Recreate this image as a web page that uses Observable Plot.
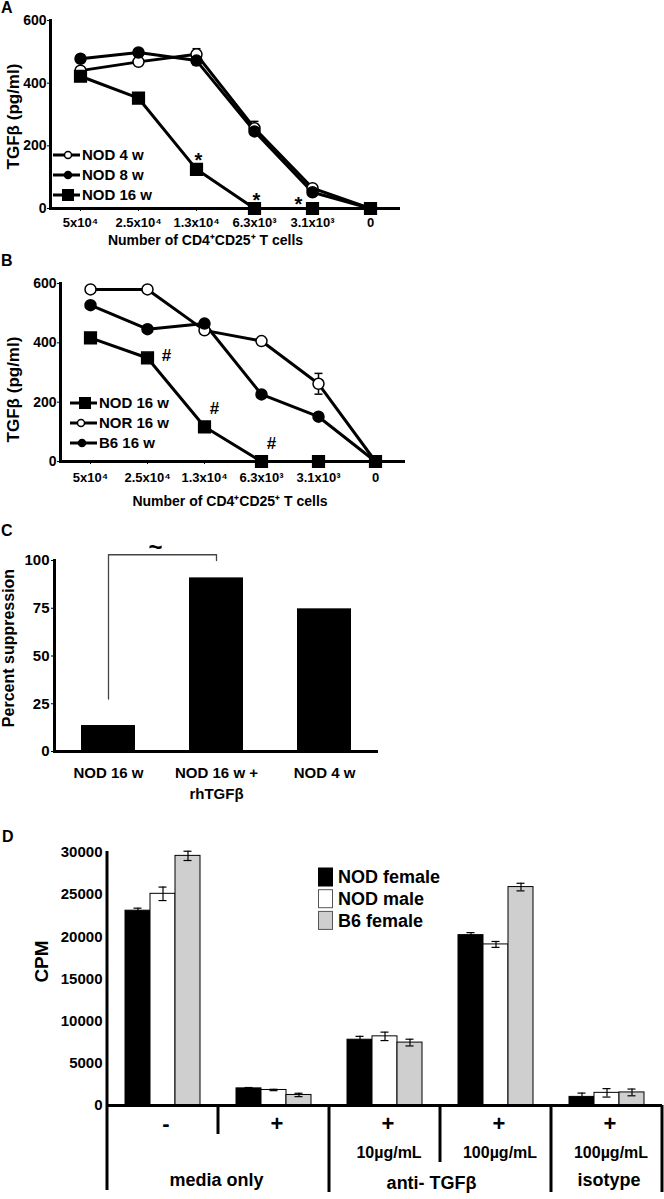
<!DOCTYPE html>
<html>
<head>
<meta charset="utf-8">
<script src="https://cdn.jsdelivr.net/npm/d3@7"></script>
<script src="https://cdn.jsdelivr.net/npm/@observablehq/plot@0.6"></script>
<style>
html,body{margin:0;padding:0;background:#fff;}
#fig{position:relative;width:664px;height:1199px;overflow:hidden;background:#fff;font-family:"Liberation Sans",Arial,Helvetica,sans-serif;font-weight:bold;color:#000;}
#fig > div, #fig > svg{position:absolute;}
.letter{font-size:16px;line-height:16px;}
</style>
</head>
<body>
<div id="fig"></div>
<script>
// ---------------- data ----------------
const cellNumbers = ["5x10⁴", "2.5x10⁴", "1.3x10⁴", "6.3x10³", "3.1x10³", "0"];

// Panel A
const seriesA = ["NOD 4 w", "NOD 8 w", "NOD 16 w"];
const nod4wA = [440, 468, 492, 256, 65, 0];
const nod4wAErr = [8, 10, 18, 22, 10, 0];
const nod8wA = [478, 498, 472, 246, 52, 0];
const nod8wAErr = [0, 0, 15, 0, 0, 0];
const nod16wA = [422, 352, 125, 0, 0, 0];
const nod16wAErr = [0, 0, 0, 0, 0, 0];
const starCellsA = ["1.3x10⁴", "6.3x10³", "3.1x10³"];
const starValuesA = [171, 44, 19];

// Panel B
const seriesB = ["NOD 16 w", "NOR 16 w", "B6 16 w"];
const nod16wB = [417, 349, 117, 0, 0, 0];
const nod16wBErr = [0, 0, 0, 0, 0, 0];
const nor16wB = [580, 580, 442, 406, 262, 0];
const nor16wBErr = [0, 0, 0, 0, 35, 0];
const b616wB = [527, 446, 465, 226, 151, 0];
const b616wBErr = [0, 0, 0, 0, 0, 0];
const hashCellsB = ["2.5x10⁴", "1.3x10⁴", "6.3x10³"];
const hashValuesB = [357, 178, 60];

// Panel C
const groupsC = ["NOD 16 w", "NOD 16 w +\nrhTGFβ", "NOD 4 w"];
const suppressionC = [13.6, 90.9, 74.7];
const bracketGroupsC = ["NOD 16 w", "NOD 16 w", "NOD 16 w +\nrhTGFβ", "NOD 16 w +\nrhTGFβ"];
const bracketValuesC = [27.5, 103, 103, 100];
const tildeValueC = [107];

// Panel D
const conditionsD = ["media −", "media +", "anti-TGFβ 10", "anti-TGFβ 100", "isotype 100"];
const signsD = ["-", "+", "+", "+", "+"];
const dosesD = ["", "", "10µg/mL", "100µg/mL", "100µg/mL"];
const categoriesD = ["media only", "anti- TGFβ", "isotype"];
const categoryConditionD = ["media −", "anti-TGFβ 10", "isotype 100"];
const strainsD = ["NOD female", "NOD male", "B6 female"];
const nodFemaleD = [23100, 2030, 7800, 20200, 1020];
const nodFemaleErrD = [300, 100, 400, 300, 450];
const nodMaleD = [25100, 1840, 8200, 19100, 1500];
const nodMaleErrD = [800, 80, 500, 350, 500];
const b6FemaleD = [29600, 1250, 7460, 25900, 1550];
const b6FemaleErrD = [550, 200, 400, 450, 400];
const cpmTicks = [0, 5000, 10000, 15000, 20000, 25000, 30000];

// ---------------- helpers ----------------
const FONT = '"Liberation Sans", Arial, Helvetica, sans-serif';
const fig = document.getElementById("fig");
function place(el, left, top) {
  el.style.position = "absolute";
  el.style.left = left + "px";
  el.style.top = top + "px";
  fig.appendChild(el);
  return el;
}
function style(size) {
  return {fontFamily: FONT, fontWeight: "bold", fontSize: size + "px", color: "#000", background: "transparent", overflow: "visible"};
}
function lineRows(series, values, errs) {
  return cellNumbers.map((cell, i) => ({series, cell, value: values[i], err: errs[i]}));
}
// horizontal cap symbol for error bars
const capSymbol = {draw(ctx, size) { const w = Math.sqrt(size); ctx.moveTo(-w / 2, 0); ctx.lineTo(w / 2, 0); }};

function linePanel(cfg) {
  const all = [...cfg.open, ...cfg.filled, ...cfg.square];
  const errs = all.filter(d => d.err > 0);
  return Plot.plot({
    width: cfg.width, height: cfg.height,
    marginLeft: cfg.ml, marginRight: cfg.mr, marginTop: cfg.mt, marginBottom: cfg.mb,
    style: style(13),
    x: {type: "point", domain: cellNumbers, padding: 0.5},
    y: {domain: [0, 600]},
    marks: [
      Plot.axisY({ticks: [0, 200, 400, 600], tickSize: 3, tickPadding: 1, label: null, fontSize: 14}),
      Plot.axisX({tickSize: 3, tickPadding: cfg.xtp, label: null, fontSize: 13}),
      Plot.frame({anchor: "left", strokeWidth: 3}),
      Plot.ruleY([0], {strokeWidth: 3}),
      Plot.text([cfg.ylabel], {text: d => d, frameAnchor: "left", textAnchor: "middle", rotate: -90, dx: cfg.ylDx, dy: cfg.ylDy, fontSize: 17}),
      Plot.text([cfg.xlabel], {text: d => d, frameAnchor: "bottom", dx: cfg.xlDx, dy: cfg.xlDy, fontSize: 14}),
      Plot.ruleX(errs, {x: "cell", y1: d => d.value - d.err, y2: d => d.value + d.err, strokeWidth: 1.5}),
      Plot.dot(errs, {x: "cell", y: d => d.value + d.err, symbol: capSymbol, r: 4.5, stroke: "#000", strokeWidth: 1.5}),
      Plot.dot(errs, {x: "cell", y: d => d.value - d.err, symbol: capSymbol, r: 4.5, stroke: "#000", strokeWidth: 1.5}),
      Plot.line(all, {x: "cell", y: "value", z: "series", stroke: "#000", strokeWidth: 3}),
      Plot.dot(cfg.open, {x: "cell", y: "value", r: 5.5, fill: "#fff", stroke: "#000", strokeWidth: 1.5}),
      Plot.dot(cfg.filled, {x: "cell", y: "value", r: 5.5, fill: "#000", stroke: "#000"}),
      Plot.dot(cfg.square, {x: "cell", y: "value", r: 6.6, symbol: "square", fill: "#000", stroke: "#000"}),
      Plot.text(cfg.ann, {x: "cell", y: "value", text: () => cfg.annText, fontSize: cfg.annSize, dx: cfg.annDx, dy: cfg.annDy}),
      ...(cfg.extra || [])
    ]
  });
}

function lineLegend(left, top, items, rowH) {
  const svg = d3.create("svg").attr("width", 130).attr("height", 70)
    .style("font-family", FONT).style("font-weight", "bold").style("font-size", "15px").style("overflow", "visible");
  items.forEach((it, i) => {
    const cy = 12 + i * rowH;
    svg.append("line").attr("x1", 2).attr("x2", 29).attr("y1", cy).attr("y2", cy).attr("stroke", "#000").attr("stroke-width", 3);
    if (it.kind === "square") {
      svg.append("rect").attr("x", it.mx - 6).attr("y", cy - 6).attr("width", 12).attr("height", 12).attr("fill", "#000");
    } else {
      svg.append("circle").attr("cx", it.mx).attr("cy", cy).attr("r", 3.5)
        .attr("fill", it.kind === "open" ? "#fff" : "#000").attr("stroke", "#000").attr("stroke-width", 1.5);
    }
    svg.append("text").attr("x", 31).attr("y", cy).attr("dy", "0.36em").text(it.label);
  });
  return place(svg.node(), left, top);
}

// ---------------- Panel A ----------------
const A4 = lineRows(seriesA[0], nod4wA, nod4wAErr);
const A8 = lineRows(seriesA[1], nod8wA, nod8wAErr);
const A16 = lineRows(seriesA[2], nod16wA, nod16wAErr);
const starsA = starCellsA.map((cell, i) => ({cell, value: starValuesA[i]}));
const chartA = linePanel({
  width: 420, height: 262, ml: 50, mr: 20, mt: 20, mb: 54, xtp: 6,
  open: A4, filled: A8, square: A16,
  ylabel: "TGFβ (pg/ml)", ylDx: -37, ylDy: 2,
  xlabel: "Number of CD4⁺CD25⁺ T cells", xlDx: -20, xlDy: 36,
  ann: starsA.slice(0, 2), annText: "*", annSize: 20, annDx: 2, annDy: 6,
  extra: [Plot.text(starsA.slice(2), {x: "cell", y: "value", text: () => "*", fontSize: 20, dx: -14, dy: 2})]
});
place(chartA, 0, 0);
lineLegend(51, 143, [
  {label: seriesA[0], kind: "open", mx: 17},
  {label: seriesA[1], kind: "filled", mx: 17},
  {label: seriesA[2], kind: "square", mx: 17}
], 20);

// ---------------- Panel B ----------------
const B16 = lineRows(seriesB[0], nod16wB, nod16wBErr);
const BNOR = lineRows(seriesB[1], nor16wB, nor16wBErr);
const BB6 = lineRows(seriesB[2], b616wB, b616wBErr);
const hashB = hashCellsB.map((cell, i) => ({cell, value: hashValuesB[i]}));
const chartB = linePanel({
  width: 420, height: 270, ml: 60, mr: 15, mt: 43, mb: 49, xtp: 8,
  open: BNOR, filled: BB6, square: B16,
  ylabel: "TGFβ (pg/ml)", ylDx: -47, ylDy: 17,
  xlabel: "Number of CD4⁺CD25⁺ T cells", xlDx: -3, xlDy: 44,
  ann: hashB.slice(0, 1), annText: "#", annSize: 17, annDx: 19, annDy: 0,
  extra: [Plot.text(hashB.slice(1), {x: "cell", y: "value", text: () => "#", fontSize: 17, dx: 10})]
});
place(chartB, 0, 240);
lineLegend(68, 391, [
  {label: seriesB[0], kind: "square", mx: 17},
  {label: seriesB[1], kind: "open", mx: 13},
  {label: seriesB[2], kind: "filled", mx: 14}
], 20);

// ---------------- Panel C ----------------
const rowsC = groupsC.map((g, i) => ({group: g, value: suppressionC[i]}));
const bracketC = bracketGroupsC.map((g, i) => ({group: g, value: bracketValuesC[i]}));
const chartC = Plot.plot({
  width: 400, height: 262, marginLeft: 54, marginRight: 22, marginTop: 20, marginBottom: 51,
  style: style(15),
  x: {domain: groupsC, paddingInner: 0.5, paddingOuter: 0.25},
  y: {domain: [0, 100]},
  marks: [
    Plot.barY(rowsC, {x: "group", y: "value", fill: "#000"}),
    Plot.axisY({ticks: [0, 25, 50, 75, 100], tickSize: 3, tickPadding: 2, label: null, fontSize: 15}),
    Plot.axisX({tickSize: 0, tickPadding: 12, label: null, fontSize: 15, lineHeight: 1.4}),
    Plot.frame({anchor: "left", strokeWidth: 3}),
    Plot.ruleY([0], {strokeWidth: 3}),
    Plot.line(bracketC, {x: "group", y: "value", stroke: "#444", strokeWidth: 1.3}),
    Plot.text(tildeValueC, {x: () => groupsC[0], y: d => d, text: () => "~", fontSize: 24, dx: 47}),
    Plot.text(["Percent suppression"], {text: d => d, frameAnchor: "left", textAnchor: "middle", rotate: -90, dx: -46, dy: -8, fontSize: 16})
  ]
});
place(chartC, 0, 540);

// ---------------- Panel D ----------------
const valsD = [nodFemaleD, nodMaleD, b6FemaleD];
const errsD = [nodFemaleErrD, nodMaleErrD, b6FemaleErrD];
const rowsD = [];
conditionsD.forEach((c, ci) => strainsD.forEach((s, si) => rowsD.push({condition: c, strain: s, value: valsD[si][ci], err: errsD[si][ci]})));
const condRowsD = conditionsD.map((c, i) => ({condition: c, sign: signsD[i], dose: dosesD[i]}));
const catRowsD = categoriesD.map((label, i) => ({condition: categoryConditionD[i], label}));
const DW = 664, DML = 106, DMR = 2;
const stepD = (DW - DML - DMR) / conditionsD.length;
const chartD = Plot.plot({
  width: DW, height: 379, marginLeft: DML, marginRight: DMR, marginTop: 32, marginBottom: 94,
  style: style(15),
  fx: {domain: conditionsD, padding: 0, axis: null},
  x: {domain: strainsD, paddingInner: 0, paddingOuter: 0.72, axis: null},
  y: {domain: [0, 30000], ticks: cpmTicks, tickSize: 0, tickPadding: 5, tickFormat: d => String(d), label: null},
  color: {domain: strainsD, range: ["#000000", "#ffffff", "#cfcfcf"]},
  marks: [
    Plot.barY(rowsD, {fx: "condition", x: "strain", y: "value", fill: "strain", stroke: "#000", strokeWidth: 1}),
    Plot.ruleX(rowsD, {fx: "condition", x: "strain", y1: d => d.value - d.err, y2: d => d.value + d.err, stroke: "#000", strokeWidth: 1.2}),
    Plot.tickY(rowsD, {fx: "condition", x: "strain", y: d => d.value + d.err, insetLeft: 8.5, insetRight: 8.5, strokeWidth: 1.2}),
    Plot.tickY(rowsD, {fx: "condition", x: "strain", y: d => d.value - d.err, insetLeft: 8.5, insetRight: 8.5, strokeWidth: 1.2}),
    Plot.ruleY([0], {strokeWidth: 3}),
    Plot.text(condRowsD, {fx: "condition", text: "sign", frameAnchor: "bottom", dy: 25, dx: 3, fontSize: 22}),
    Plot.text(condRowsD, {fx: "condition", text: "dose", frameAnchor: "bottom", dy: 52, dx: 4, fontSize: 16}),
    Plot.text(catRowsD.slice(0, 1), {fx: "condition", text: "label", frameAnchor: "bottom", dy: 80, dx: stepD / 2 - 2, fontSize: 18}),
    Plot.text(catRowsD.slice(1, 2), {fx: "condition", text: "label", frameAnchor: "bottom", dy: 83, dx: stepD / 2 - 9, fontSize: 18}),
    Plot.text(catRowsD.slice(2, 3), {fx: "condition", text: "label", frameAnchor: "bottom", dy: 80, dx: 2, fontSize: 18})
  ]
});
{
  const svg = d3.select(chartD);
  const y = chartD.scale("y");
  const fx = chartD.scale("fx");
  const y0 = y.apply(0), yTop = y.apply(30000);
  const bounds = conditionsD.map(c => fx.apply(c));
  bounds.push(fx.apply(conditionsD[conditionsD.length - 1]) + fx.bandwidth);
  const ends = [370, 314, 372, 342, 372, 372];
  bounds.forEach((bx, i) => {
    svg.append("line").attr("x1", bx).attr("x2", bx)
      .attr("y1", i === 0 ? yTop - 1 : y0).attr("y2", ends[i])
      .attr("stroke", "#000").attr("stroke-width", 3);
  });
  svg.append("text").attr("transform", `translate(41,${(y0 + yTop) / 2 - 17}) rotate(-90)`)
    .attr("text-anchor", "middle").attr("dy", "0.35em").attr("font-size", 19).text("CPM");
}
place(chartD, 0, 820);

// legend D
{
  const fills = ["#000000", "#ffffff", "#cfcfcf"];
  const svg = d3.create("svg").attr("width", 160).attr("height", 70)
    .style("font-family", FONT).style("font-weight", "bold").style("font-size", "18px").style("overflow", "visible");
  strainsD.forEach((s, i) => {
    const top = 2 + i * 21.7;
    svg.append("rect").attr("x", 0.5).attr("y", top).attr("width", 14).attr("height", 18)
      .attr("fill", fills[i]).attr("stroke", i === 0 ? "#000" : "#555").attr("stroke-width", 1);
    svg.append("text").attr("x", 20).attr("y", top + 9).attr("dy", "0.36em").text(s);
  });
  place(svg.node(), 318, 866);
}

// panel letters
[["A", 1, 0], ["B", 1, 253], ["C", 1, 523], ["D", 2, 829]].forEach(([t, l, tp]) => {
  const d = document.createElement("div");
  d.className = "letter";
  d.textContent = t;
  place(d, l, tp);
});
</script>
</body>
</html>
